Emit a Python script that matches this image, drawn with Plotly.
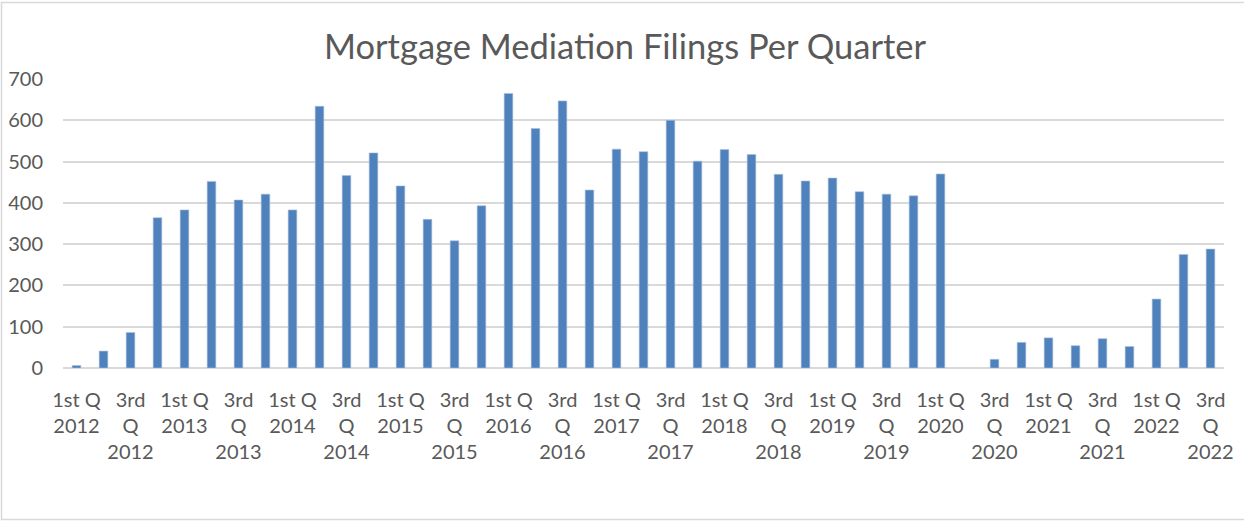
import plotly.graph_objects as go

years = ["2012", "2013", "2014", "2015", "2016", "2017", "2018", "2019", "2020", "2021", "2022"]
quarter_names = ["1st Q", "2nd Q", "3rd Q", "4th Q"]
categories = [f"{q} {y}" for y in years for q in quarter_names][:43]

filings = [6, 41, 86, 364,
           383, 452, 407, 421,
           383, 634, 466, 521,
           441, 360, 308, 393,
           665, 580, 647, 431,
           530, 524, 600, 501,
           529, 517, 469, 453,
           460, 427, 421, 417,
           470, None, 21, 62,
           73, 54, 71, 52,
           167, 275, 288]

tick_cats = categories[::2]
tick_text = [c.replace("1st Q ", "1st Q<br>").replace("3rd Q ", "3rd<br>Q<br>") for c in tick_cats]

W, H = 1244, 521
L, R, T, B = 63, 20, 79, 153
pw, ph = W - L - R, H - T - B

def px_x(p):
    return (p - L) / pw

def px_y(p):
    return (H - B - p) / ph

fig = go.Figure(go.Bar(
    x=categories, y=filings,
    marker=dict(color="#4F81BD", line=dict(color="#A9C0DE", width=0.6)),
))

font_family = "Lato, 'Open Sans', sans-serif"
fig.update_layout(
    width=W, height=H,
    margin=dict(l=L, r=R, t=T, b=B, autoexpand=False),
    paper_bgcolor="white", plot_bgcolor="white",
    bargap=0.68,
    showlegend=False,
    title=dict(text="Mortgage Mediation Filings Per Quarter",
               x=625 / W, xref="container", y=1 - 47 / H, yref="container",
               yanchor="middle", xanchor="center",
               font=dict(family=font_family, size=34.5, color="#595959")),
    font=dict(family=font_family, color="#595959"),
    shapes=[dict(type="rect", xref="paper", yref="paper",
                 x0=px_x(1.5), x1=px_x(1250), y0=px_y(519.5), y1=px_y(2.5),
                 line=dict(color="#D9D9D9", width=1.5), fillcolor="rgba(0,0,0,0)", layer="below")],
)
fig.update_xaxes(
    type="category", range=[-0.5, 42.5],
    tickmode="array", tickvals=tick_cats, ticktext=tick_text,
    tickangle=0, ticks="", showgrid=False, showline=False,
    tickfont=dict(family=font_family, size=20, color="#595959"),
    ticklabelstandoff=18,
)
fig.update_yaxes(
    range=[0, 700], dtick=100, tick0=0,
    showgrid=True, gridcolor="#D9D9D9", gridwidth=1.5,
    zeroline=True, zerolinecolor="#D9D9D9", zerolinewidth=1.5,
    showline=False, ticks="",
    tickfont=dict(family=font_family, size=20, color="#595959"),
    ticklabelstandoff=19,
)

fig.write_html("out.html", config={"displayModeBar": False},
               post_script="document.body.style.margin='0';document.body.style.padding='0';")
